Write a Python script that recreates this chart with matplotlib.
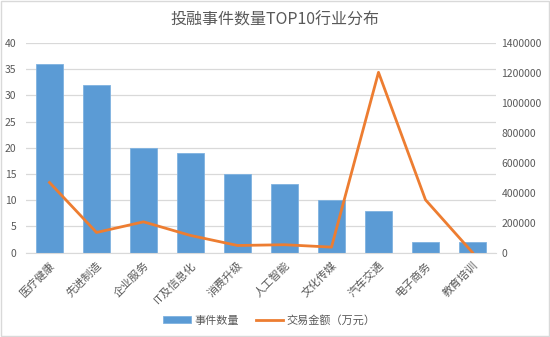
import matplotlib.pyplot as plt
from matplotlib.patches import Rectangle
from matplotlib.ticker import FuncFormatter

plt.rcParams['font.family'] = ['Noto Sans CJK SC', 'DejaVu Sans']

# 数据
industries = ['医疗健康', '先进制造', '企业服务', 'IT及信息化', '消费升级',
              '人工智能', '文化传媒', '汽车交通', '电子商务', '教育培训']
event_counts = [36, 32, 20, 19, 15, 13, 10, 8, 2, 2]
deal_amounts = [468000, 134000, 205000, 114000, 47000, 52000, 36000, 1204000, 352000, 0]

text_color = '#595959'
grid_color = '#D9D9D9'

fig = plt.figure(figsize=(5.5, 3.37), dpi=100)
ax = fig.add_axes([0.0473, 0.2507, 0.8545, 0.6217])
ax2 = ax.twinx()

x = range(len(industries))
bars = ax.bar(x, event_counts, width=0.57, color='#5B9BD5', edgecolor='#7FB2E0',
              linewidth=0.6, label='事件数量', zorder=2)
line, = ax2.plot(x, deal_amounts, color='#ED7D31', linewidth=2, label='交易金额（万元）')

ax.set_xlim(-0.5, 9.5)
ax.set_ylim(0, 40)
ax.set_yticks(range(0, 41, 5))
ax2.set_ylim(0, 1400000)
ax2.set_yticks(range(0, 1400001, 200000))
ax2.yaxis.set_major_formatter(FuncFormatter(lambda v, p: f'{int(v)}'))

ax.yaxis.grid(True, color=grid_color, linewidth=0.9, zorder=0)
ax.set_axisbelow(True)
for a in (ax, ax2):
    for s in a.spines.values():
        s.set_visible(False)
ax.spines['bottom'].set_visible(True)
ax.spines['bottom'].set_color(grid_color)

ax.set_xticks(list(x))
ax.set_xticklabels(industries, rotation=45, ha='right', rotation_mode='anchor',
                   fontsize=8, color=text_color)
ax.tick_params(axis='x', length=0, pad=5)
ax.tick_params(axis='y', length=0, labelsize=7.5, labelcolor=text_color, pad=7)
ax2.tick_params(axis='y', length=0, labelsize=7.5, labelcolor=text_color, pad=4)

fig.text(0.5, 0.94, '投融事件数量TOP10行业分布', ha='center', va='center',
         fontsize=11.5, color=text_color)

fig.legend(handles=[bars, line], loc='center', bbox_to_anchor=(0.49, 0.05),
           ncol=2, frameon=False, fontsize=8, labelcolor=text_color,
           handlelength=2.5, handleheight=0.5, columnspacing=1.5, handletextpad=0.3)

# 外边框
fig.patches.append(Rectangle((0.002, 0.003), 0.996, 0.994, transform=fig.transFigure,
                             fill=False, edgecolor=grid_color, linewidth=1))

fig.savefig('out.png', dpi=100)
